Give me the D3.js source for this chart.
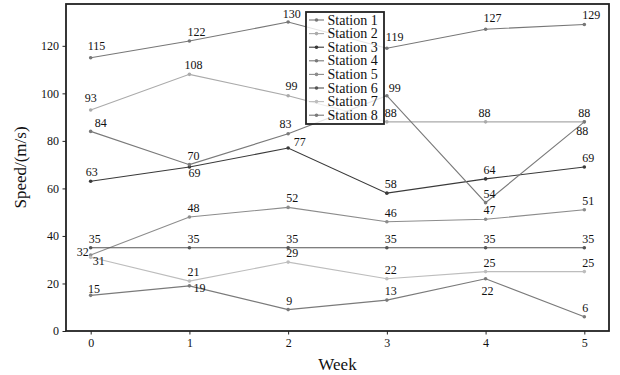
<!DOCTYPE html>
<html><head><meta charset="utf-8">
<script src="https://cdn.jsdelivr.net/npm/d3@7"></script>
<style>
html,body{margin:0;padding:0;background:#fff;}
svg text{font-family:"Liberation Serif","Tinos","Times New Roman","DejaVu Serif",serif;}
</style></head>
<body>
<svg id="chart" width="620" height="375"></svg>
<script>
// ---- data ----
const weeks = [0, 1, 2, 3, 4, 5];
const stationNames = ["Station 1","Station 2","Station 3","Station 4","Station 5","Station 6","Station 7","Station 8"];
const station1 = [115, 122, 130, 119, 127, 129];
const station2 = [93, 108, 99, 88, 88, 88];
const station3 = [63, 69, 77, 58, 64, 69];
const station4 = [84, 70, 83, 99, 54, 88];
const station5 = [32, 48, 52, 46, 47, 51];
const station6 = [35, 35, 35, 35, 35, 35];
const station7 = [31, 21, 29, 22, 25, 25];
const station8 = [15, 19, 9, 13, 22, 6];
const yTicks = [0, 20, 40, 60, 80, 100, 120];
const xLabel = "Week";
const yLabel = "Speed/(m/s)";

// ---- styling ----
const seriesValues = [station1, station2, station3, station4, station5, station6, station7, station8];
const colors = ["#777777","#aaaaaa","#3a3a3a","#7a7a7a","#8c8c8c","#555555","#bdbdbd","#7a7a7a"];
// label nudges (series index, week index) -> [dx, dy, anchor]
const nudges = {
  "0-0":[-3,-7.5], "0-2":[-5.5,-3.7], "0-3":[-1,-7.3], "0-4":[-2,-7],
  "1-0":[-6,-8], "1-1":[-5,-5], "1-2":[-2.6,-5.6], "1-4":[-7,-5], "1-5":[-6,-5],
  "2-0":[-5,-5], "2-1":[-1,10], "2-2":[5.7,-2],
  "3-0":[4,-4.5], "3-2":[-8.6,-6], "3-3":[2,-4], "3-5":[-8,13],
  "4-0":[-2,1,"end"],
  "6-0":[2,8],
  "7-0":[-2.7,-2.4], "7-1":[4,6], "7-4":[-4,16.5]
};

const W = 620, H = 375;
const m = {left:66, right:11, top:4, bottom:44};
const svg = d3.select("#chart");

const x = d3.scaleLinear().domain([-0.25, 5.25]).range([m.left, W - m.right]);
const y = d3.scaleLinear().domain([0, 137.6]).range([H - m.bottom, m.top]);

// axes
const xAxis = svg.append("g").attr("transform", `translate(0,${H - m.bottom})`)
  .call(d3.axisBottom(x).tickValues(weeks).tickFormat(d3.format("d")).tickSize(3.5).tickPadding(4));
const yAxis = svg.append("g").attr("transform", `translate(${m.left},0)`)
  .call(d3.axisLeft(y).tickValues(yTicks).tickFormat(d3.format("d")).tickSize(3.5).tickPadding(3.5));
[xAxis, yAxis].forEach(a => {
  a.attr("font-family", null).attr("font-size", null);
  a.select(".domain").remove();
  a.selectAll("line").attr("stroke", "#222").attr("stroke-width", 1);
  a.selectAll("text").attr("font-size", 12).attr("fill", "#111");
});

// lines
const line = d3.line().x((d, i) => x(weeks[i])).y(d => y(d));
seriesValues.forEach((vals, s) => {
  svg.append("path").datum(vals).attr("d", line)
    .attr("fill", "none").attr("stroke", colors[s]).attr("stroke-width", 1.1);
  svg.append("g").selectAll("circle").data(vals).join("circle")
    .attr("cx", (d, i) => x(weeks[i])).attr("cy", d => y(d)).attr("r", 1.8)
    .attr("fill", colors[s]);
});

// value labels
seriesValues.forEach((vals, s) => {
  vals.forEach((v, i) => {
    const n = nudges[s + "-" + i] || [-2, -5];
    svg.append("text")
      .attr("x", x(weeks[i]) + n[0]).attr("y", y(v) + n[1])
      .attr("text-anchor", n[2] || "start")
      .attr("font-size", 12).attr("fill", "#111")
      .text(v);
  });
});

// frame
svg.append("rect").attr("x", m.left).attr("y", m.top)
  .attr("width", W - m.left - m.right).attr("height", H - m.top - m.bottom)
  .attr("fill", "none").attr("stroke", "#222").attr("stroke-width", 1.8);

// legend
const lg = svg.append("g").attr("transform", "translate(306,12)");
lg.append("rect").attr("width", 78).attr("height", 112)
  .attr("fill", "#fff").attr("fill-opacity", 0.8)
  .attr("stroke", "#222").attr("stroke-width", 1.8);
stationNames.forEach((name, s) => {
  const cy = 8 + s * 13.6;
  lg.append("line").attr("x1", 3).attr("x2", 18).attr("y1", cy).attr("y2", cy)
    .attr("stroke", colors[s]).attr("stroke-width", 1.1);
  lg.append("circle").attr("cx", 10.5).attr("cy", cy).attr("r", 1.8).attr("fill", colors[s]);
  lg.append("text").attr("x", 21.5).attr("y", cy + 4.5)
    .attr("font-size", 14).attr("fill", "#111").text(name);
});

// axis titles
svg.append("text").attr("x", (m.left + W - m.right) / 2).attr("y", 370)
  .attr("text-anchor", "middle").attr("font-size", 17).attr("fill", "#111").text(xLabel);
svg.append("text").attr("transform", `translate(26,${(m.top + H - m.bottom) / 2}) rotate(-90)`)
  .attr("text-anchor", "middle").attr("font-size", 17).attr("fill", "#111").text(yLabel);
</script>
</body></html>
